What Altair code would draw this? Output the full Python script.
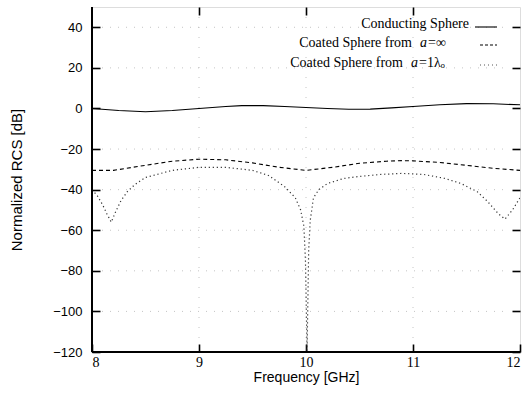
import altair as alt
import pandas as pd

# ---- data ----
cond_f = [8.0, 8.25, 8.5, 8.75, 9.0, 9.25, 9.4, 9.6, 9.8, 10.0, 10.2, 10.4, 10.6, 10.8, 11.0, 11.25, 11.5, 11.75, 12.0]
cond_v = [0.0, -1.0, -1.6, -1.0, 0.0, 1.0, 1.4, 1.4, 1.0, 0.5, 0.0, -0.4, -0.3, 0.3, 1.0, 1.8, 2.4, 2.3, 1.8]

inf_f = [8.0, 8.2, 8.5, 8.75, 9.0, 9.25, 9.5, 9.75, 10.0, 10.25, 10.5, 10.75, 10.9, 11.0, 11.25, 11.5, 11.75, 12.0]
inf_v = [-30.5, -30.5, -28.0, -26.0, -25.0, -25.3, -26.8, -29.0, -30.5, -29.0, -27.0, -26.0, -25.7, -25.8, -26.6, -28.0, -29.5, -30.5]

one_f = [8.0, 8.05, 8.1, 8.14, 8.18, 8.22, 8.27, 8.33, 8.4, 8.5, 8.75, 9.0, 9.25, 9.5, 9.65, 9.8, 9.9, 9.95, 9.98, 9.995,
         10.01, 10.025, 10.04, 10.07, 10.12, 10.2, 10.35, 10.5, 10.7, 10.9, 11.1, 11.3, 11.45, 11.6, 11.7, 11.8, 11.86, 11.93, 12.0]
one_v = [-40.0, -43.0, -47.5, -52.0, -56.0, -51.0, -45.5, -41.0, -37.5, -34.0, -30.5, -29.0, -29.0, -30.5, -33.0, -38.5, -44.0, -50.0, -58.0, -75.0,
         -120.0, -70.0, -55.0, -44.0, -40.0, -37.0, -34.5, -33.5, -32.5, -32.0, -32.5, -34.5, -37.0, -41.0, -46.0, -52.0, -54.5, -50.0, -44.0]

x_ticks = [8, 9, 10, 11, 12]
x_inner = [9, 10, 11]
y_ticks = [40, 20, 0, -20, -40, -60, -80, -100, -120]
y_inner = [40, 20, -20, -40, -60, -80, -100]

legend_labels = ["Conducting Sphere", "Coated Sphere from", "Coated Sphere from"]
legend_math = ["", "a", "a"]
legend_rest = ["", "=∞", "=1λₒ"]

W, H = 428, 345
TK = 8
xs = alt.Scale(domain=[8, 12], nice=False)
ys = alt.Scale(domain=[-120, 50], nice=False)

serif = "Liberation Serif"
sans = "Liberation Sans"

common_tick = dict(ticks=True, tickSize=TK, tickWidth=1.6, tickColor="black", domain=False, grid=False, offset=-TK)

x_axis_bottom = alt.Axis(values=x_ticks, format="d", title="Frequency [GHz]", orient="bottom",
                         labelFont=serif, labelFontSize=14, labelPadding=3, labelColor="black",
                         titleFont=sans, titleFontSize=14, titleFontWeight="normal", titlePadding=1,
                         titleColor="black", **common_tick)
y_axis_left = alt.Axis(values=y_ticks, title="Normalized RCS [dB]", orient="left",
                       labelFont=sans, labelFontSize=13, labelPadding=10, labelColor="black",
                       titleFont=sans, titleFontSize=15, titleFontWeight="normal", titlePadding=28,
                       titleColor="black", **common_tick)
y_axis_right = alt.Axis(values=y_ticks, title=None, orient="right", labels=False, **common_tick)
x_axis_top = alt.Axis(values=x_inner, title=None, orient="top", labels=False, **common_tick)


def line(f, v, dash, color="black", width=1.0, xa=None, ya=None):
    df = pd.DataFrame({"f": f, "v": v})
    kw = dict(color=color, strokeWidth=width, clip=True)
    if dash:
        kw["strokeDash"] = dash
    return alt.Chart(df).mark_line(**kw).encode(
        x=alt.X("f:Q", scale=xs, axis=xa),
        y=alt.Y("v:Q", scale=ys, axis=ya),
    )


# faint dotted grid (these layers also carry the mirrored top/right tick axes)
gy = alt.Chart(pd.DataFrame({"v": y_inner})).mark_rule(color="#b5b5b5", strokeWidth=0.8, strokeDash=[1, 7]).encode(
    y=alt.Y("v:Q", scale=ys, axis=y_axis_right), x=alt.value(TK + 2), x2=alt.value(W - TK - 2))
gx = alt.Chart(pd.DataFrame({"f": x_inner})).mark_rule(color="#b5b5b5", strokeWidth=0.8, strokeDash=[1, 9]).encode(
    x=alt.X("f:Q", scale=xs, axis=x_axis_top), y=alt.value(TK + 2), y2=alt.value(H - TK - 2))

l1 = line(cond_f, cond_v, None, width=1.1, xa=x_axis_bottom, ya=y_axis_left)
l2 = line(inf_f, inf_v, [4, 3], width=1.1)
l3 = line(one_f, one_v, [1.2, 2.8], color="#333333", width=1.2)

one = pd.DataFrame({"d": [0]})
# heavier left and bottom frame edges
fl = alt.Chart(one).mark_rule(color="black", strokeWidth=2).encode(x=alt.value(0), y=alt.value(0), y2=alt.value(H))
fb = alt.Chart(one).mark_rule(color="black", strokeWidth=2).encode(x=alt.value(0), x2=alt.value(W), y=alt.value(H))

# legend
leg_y = [17, 36, 56]
leg_x_right = [377, 320, 311]
leg_math_x = [0, 328, 319]
legend_layers = []
for i in range(3):
    legend_layers.append(
        alt.Chart(one).mark_text(align="right", baseline="middle", font=serif, fontSize=14, color="black",
                                 text=legend_labels[i]).encode(x=alt.value(leg_x_right[i]), y=alt.value(leg_y[i])))
    if legend_math[i]:
        legend_layers.append(
            alt.Chart(one).mark_text(align="left", baseline="middle", font=serif, fontSize=14, fontStyle="italic",
                                     color="black", text=legend_math[i]).encode(
                x=alt.value(leg_math_x[i]), y=alt.value(leg_y[i])))
        legend_layers.append(
            alt.Chart(one).mark_text(align="left", baseline="middle", font=serif, fontSize=14, color="black",
                                     text=legend_rest[i]).encode(
                x=alt.value(leg_math_x[i] + 8), y=alt.value(leg_y[i])))

s1 = alt.Chart(one).mark_rule(color="black", strokeWidth=1.1).encode(
    x=alt.value(383), x2=alt.value(405), y=alt.value(leg_y[0] + 3))
s2 = alt.Chart(one).mark_rule(color="black", strokeWidth=1.1, strokeDash=[3, 2]).encode(
    x=alt.value(388), x2=alt.value(405), y=alt.value(leg_y[1] + 2))
s3 = alt.Chart(one).mark_rule(color="#555555", strokeWidth=1.0, strokeDash=[1, 3]).encode(
    x=alt.value(388), x2=alt.value(405), y=alt.value(leg_y[2] + 2))

chart = alt.layer(gy, gx, l1, l2, l3, fl, fb, *legend_layers, s1, s2, s3).resolve_axis(
    x="independent", y="independent"
).properties(
    width=W, height=H,
    autosize=alt.AutoSizeParams(type="none"),
    padding={"left": 92, "top": 7, "right": 11, "bottom": 43},
).configure_view(stroke="black", strokeWidth=1.5).configure(background="white")

chart.save("out.html", embed_options={"renderer": "svg", "actions": False})
